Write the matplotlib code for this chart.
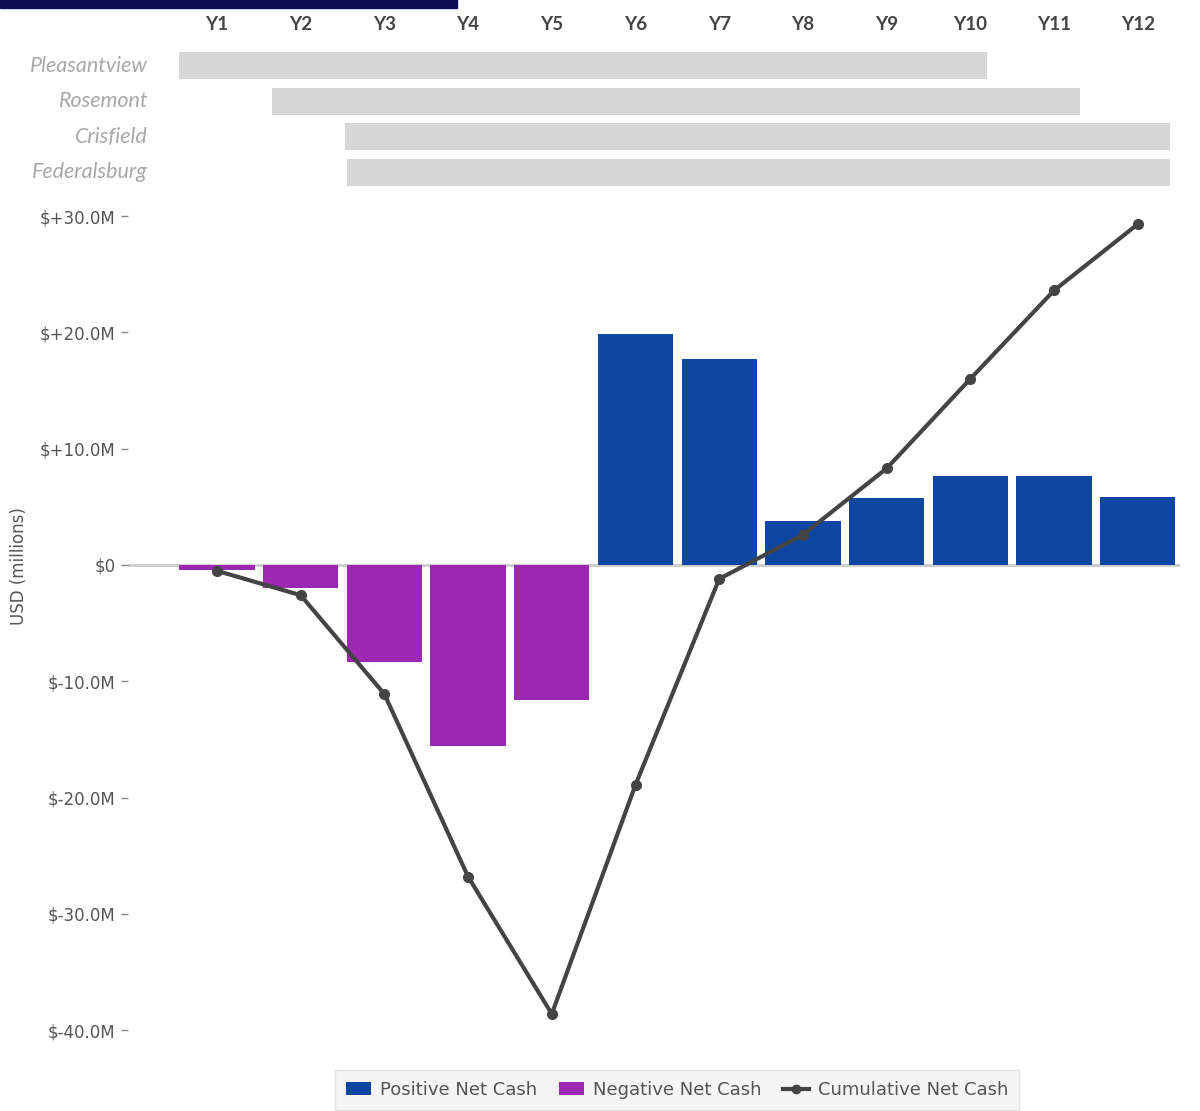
import matplotlib
matplotlib.use("Agg")
import matplotlib.pyplot as plt
from matplotlib.patches import Patch, Rectangle
from matplotlib.lines import Line2D
from matplotlib.ticker import FuncFormatter

# data
years = ["Y1", "Y2", "Y3", "Y4", "Y5", "Y6", "Y7", "Y8", "Y9", "Y10", "Y11", "Y12"]
net_cash = [-0.4, -2.0, -8.3, -15.6, -11.6, 19.9, 17.7, 3.8, 5.8, 7.65, 7.65, 5.85]
cumulative = [-0.5, -2.6, -11.1, -26.8, -38.6, -18.9, -1.2, 2.6, 8.3, 16.0, 23.6, 29.3]
projects = ["Pleasantview", "Rosemont", "Crisfield", "Federalsburg"]
proj_start = [-0.45, 0.66, 1.53, 1.55]
proj_end = [9.2, 10.31, 11.39, 11.39]

pos_color = "#0D47A1"
neg_color = "#9C27B0"
line_color = "#444444"
txt_color = "#555555"

fig = plt.figure(figsize=(12, 11.11), dpi=100)

# navy strip top-left
fig.patches.append(Rectangle((0, 1 - 8 / 1111), 457 / 1200, 8 / 1111,
                             transform=fig.transFigure, color="#0e0e55", zorder=5))

ax = fig.add_axes([128 / 1200, 1 - 1045 / 1111, 1052 / 1200, 840 / 1111])
ax_g = fig.add_axes([128 / 1200, 1 - 190 / 1111, 1052 / 1200, 142 / 1111])

x = list(range(len(years)))
cols = [pos_color if v >= 0 else neg_color for v in net_cash]
ax.bar(x, net_cash, width=0.9, color=cols, zorder=2)
ax.axhline(0, color="#cccccc", lw=2, zorder=1)
ax.plot(x, cumulative, color=line_color, lw=3, marker="o", ms=7, zorder=3)

ax.set_xlim(-1.063, 11.505)
ax.set_ylim(-41.27, 30.95)
ax.set_yticks([30, 20, 10, 0, -10, -20, -30, -40])
ax.yaxis.set_major_formatter(FuncFormatter(lambda v, p: "$0" if v == 0 else f"${v:+.1f}M"))
ax.set_xticks([])
for s in ax.spines.values():
    s.set_visible(False)
ax.tick_params(axis="y", length=5, width=1, color="#888888", labelcolor=txt_color,
               labelsize=12, pad=4)
ax.set_ylabel("USD (millions)", fontsize=12, color=txt_color)
ax.yaxis.set_label_coords(-0.095, 0.57)

leg_handles = [
    Patch(facecolor=pos_color, label="Positive Net Cash"),
    Patch(facecolor=neg_color, label="Negative Net Cash"),
    Line2D([0], [0], color=line_color, lw=3, marker="o", ms=6, label="Cumulative Net Cash"),
]
leg = fig.legend(handles=leg_handles, loc="upper center", bbox_to_anchor=(677 / 1200, 1 - 1061 / 1111),
                 ncol=3, fontsize=13, frameon=True, fancybox=False, handlelength=1.4,
                 handletextpad=0.5, columnspacing=1.2, borderpad=0.6)
leg.get_frame().set_facecolor("#f3f3f3")
leg.get_frame().set_edgecolor("#dddddd")
for t in leg.get_texts():
    t.set_color(txt_color)

# gantt strip
for i, (name, s, e) in enumerate(zip(projects, proj_start, proj_end)):
    ax_g.barh(i, e - s, left=s, height=0.75, color="#d6d6d6")
    ax_g.text(20 / 1052, i, name, transform=ax_g.get_yaxis_transform(),
              ha="right", va="center", fontsize=15.5, color="#a8a8a8", style="italic",
              family=["Lato", "DejaVu Sans"])
ax_g.set_xlim(ax.get_xlim())
ax_g.set_ylim(3.5, -0.5)
for xi, yr in zip(x, years):
    ax_g.text(xi, 165 / 142, yr, transform=ax_g.get_xaxis_transform(), ha="center", va="center",
              fontsize=13.5, fontweight="bold", color="#444444", family=["Lato", "DejaVu Sans"])
ax_g.set_xticks([])
ax_g.set_yticks([])
for s in ax_g.spines.values():
    s.set_visible(False)

fig.savefig("out.png", dpi=100)
